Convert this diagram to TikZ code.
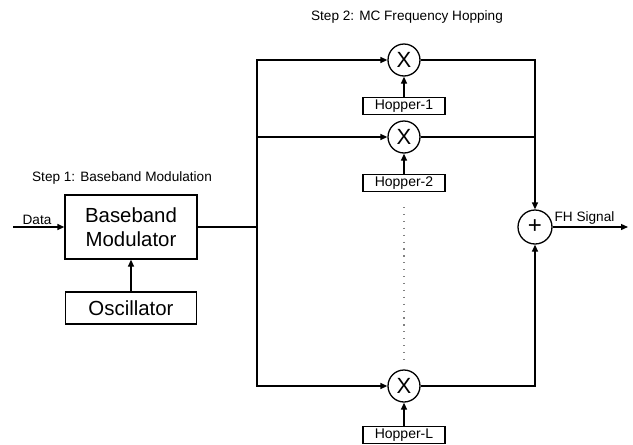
\documentclass[tikz,border=0pt]{standalone}
\usepackage{fontspec}
\setmainfont{Liberation Sans}
\usetikzlibrary{arrows.meta}
\begin{document}
\begin{tikzpicture}[x=1pt,y=-1pt,line width=1.3pt,
  blk/.style={draw,inner sep=0pt,align=center},
  mix/.style={draw,circle,minimum size=32pt,inner sep=0pt,font=\fontsize{22}{22}\selectfont},
  hop/.style={draw,minimum width=82pt,minimum height=17pt,inner sep=0pt,font=\fontsize{14}{15}\selectfont},
  lbl/.style={font=\fontsize{13.6}{15}\selectfont,inner sep=1pt},
  arr/.style={-{Triangle[length=7pt,width=6pt]}}]
\useasboundingbox (0,0) rectangle (633,445);
% step labels
\node[lbl] (s2) at (407,17) {Step 2: MC Frequency Hopping};
\node[lbl] (s1) at (122,178) {Step 1: Baseband Modulation};
% blocks
\node[blk,minimum width=132pt,minimum height=64pt,font=\fontsize{20.4}{24}\selectfont] (mod) at (131,227) {Baseband\\Modulator};
\node[blk,minimum width=131pt,minimum height=32pt,font=\fontsize{20.4}{24}\selectfont] (osc) at (131,308) {Oscillator};
\coordinate (din) at (13,227);
\node[lbl,anchor=south] (data) at (37,226) {Data};
\coordinate (split) at (257,227);
\node[mix] (m1) at (404,60) {X};
\node[mix] (m2) at (404,137) {X};
\node[mix] (mL) at (404,386) {X};
\node[hop] (h1) at (404,106) {Hopper-1};
\node[hop] (h2) at (404,183) {Hopper-2};
\node[hop] (hL) at (404,435) {Hopper-L};
\node[mix,minimum size=34pt,font=\fontsize{24}{24}\selectfont] (plus) at (535,227) {+};
\coordinate (out) at (628,227);
\node[lbl,anchor=south west] (fh) at (553,226) {FH Signal};
\coordinate (d1) at (404,207);
\coordinate (d2) at (404,360);
% connectors
\draw[arr] (din) -- (mod);
\draw[arr] (osc) -- (mod);
\draw (mod.east) -- (split);
\draw[arr] (split) |- (m1);
\draw[arr] (split) |- (m2);
\draw[arr] (split) |- (mL);
\draw[arr] (h1) -- (m1);
\draw[arr] (h2) -- (m2);
\draw[arr] (hL) -- (mL);
\draw[arr] (m1) -| (plus);
\draw (m2.east) -- (m2 -| plus);
\draw[arr] (mL) -| (plus);
\draw[arr] (plus) -- (out);
\draw[line width=1.2pt,dash pattern=on 1.2pt off 5.7pt,gray] (d1) -- (d2);
\end{tikzpicture}
\end{document}
